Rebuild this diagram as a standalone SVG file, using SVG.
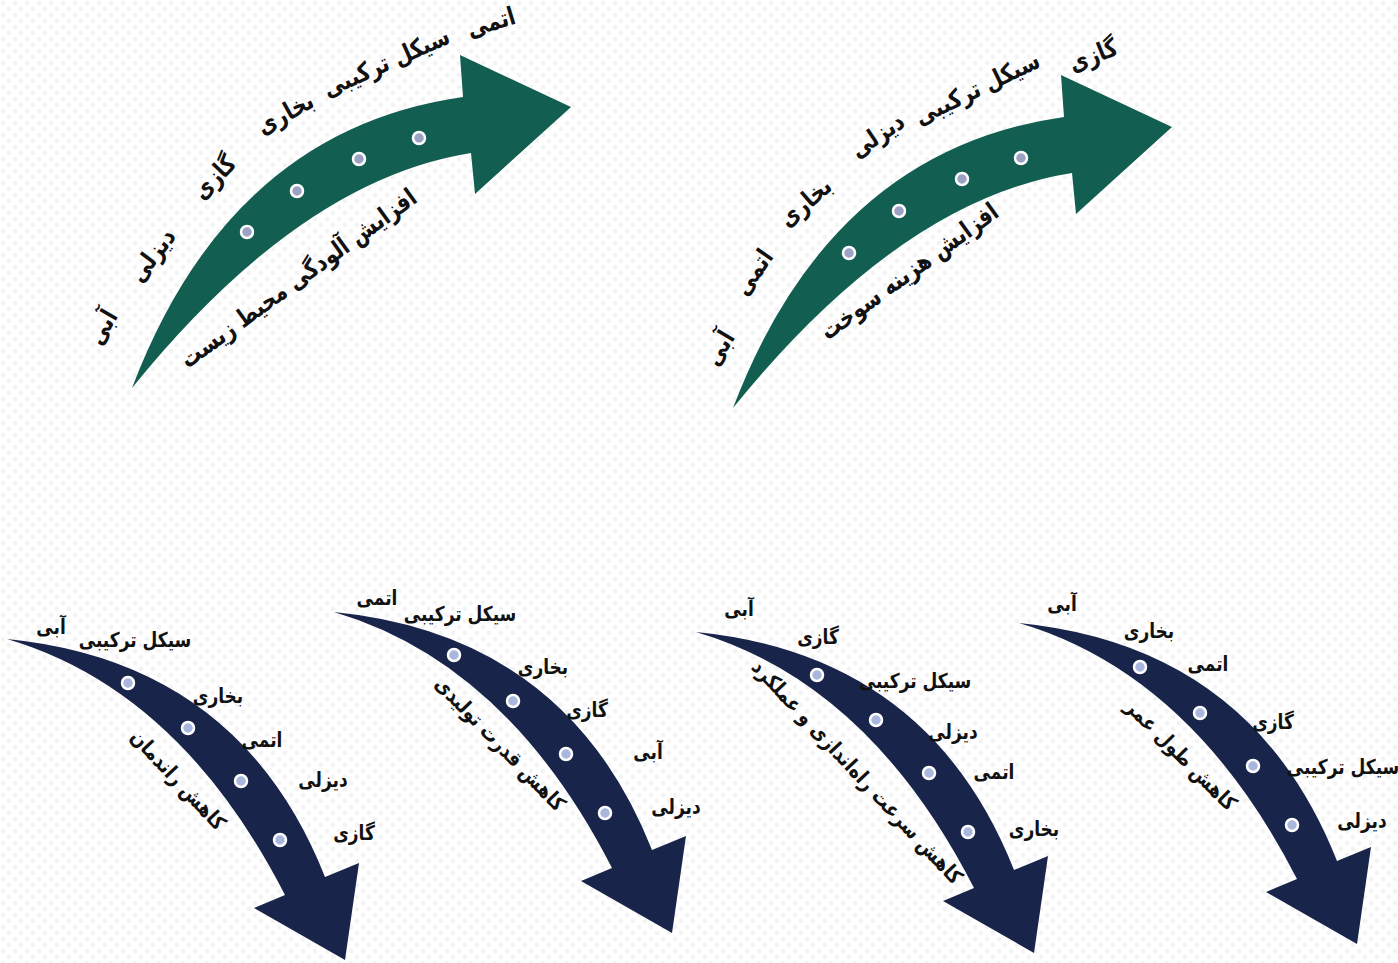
<svg xmlns="http://www.w3.org/2000/svg" width="1398" height="963" viewBox="0 0 1398 963">
<defs>
<pattern id="bgdots" width="12" height="12" patternUnits="userSpaceOnUse">
<rect width="12" height="12" fill="#ffffff"/>
<circle cx="3" cy="3" r="2.2" fill="#f3f3f3"/>
<circle cx="9" cy="9" r="2.2" fill="#f3f3f3"/>
</pattern>
<path id="upArrow" d="M132,388 Q230,130 463,97 L460,55 L571,107 L475,194 L471,153 Q300,180 132,388 Z"/>
<path id="downArrow" d="M7,639 Q240,662 325,877 L359,863 L345,960 L254,908 L285,895 Q180,690 7,639 Z"/>
</defs>
<style>
.green{fill:#125f51}
.navy{fill:#19244a}
.dotg{fill:#9ba2c4;stroke:#ffffff;stroke-width:2.5}
.dotn{fill:#a9b6de;stroke:#ffffff;stroke-width:2.5}
.lbl{font-family:"DejaVu Sans",sans-serif;font-weight:bold;fill:#111111;text-anchor:middle;dominant-baseline:central}
.big{font-size:25px}
.sm{font-size:20.5px}
.inner{font-size:21px}
</style>
<rect width="1398" height="963" fill="url(#bgdots)"/>
<g id="connectors">
<use href="#upArrow" class="green"/>
<use href="#upArrow" class="green" transform="translate(601,20)"/>
<use href="#downArrow" class="navy"/>
<use href="#downArrow" class="navy" transform="translate(327,-27)"/>
<use href="#downArrow" class="navy" transform="translate(689,-7)"/>
<use href="#downArrow" class="navy" transform="translate(1012,-16)"/>
</g>
<g id="arrow-pollution">
<circle class="dotg" cx="247" cy="232" r="6"/>
<circle class="dotg" cx="297" cy="191" r="6"/>
<circle class="dotg" cx="359" cy="159" r="6"/>
<circle class="dotg" cx="419" cy="138" r="6"/>
<text class="lbl big" transform="translate(102,327) rotate(-60) scale(0.82,1)">آبی</text>
<text class="lbl big" transform="translate(152,255) rotate(-53) scale(0.82,1)">دیزلی</text>
<text class="lbl big" transform="translate(214,177) rotate(-46) scale(0.82,1)">گازی</text>
<text class="lbl big" transform="translate(285,113) rotate(-29) scale(0.82,1)">بخاری</text>
<text class="lbl big" transform="translate(386,62) rotate(-24) scale(0.82,1)">سیکل ترکیبی</text>
<text class="lbl big" transform="translate(491,22) rotate(-17) scale(0.82,1)">اتمی</text>
<text class="lbl big" transform="translate(298,278) rotate(-36) scale(0.81,1)">افزایش آلودگی محیط زیست</text>
</g>
<g id="arrow-fuelcost">
<circle class="dotg" cx="849" cy="253" r="6"/>
<circle class="dotg" cx="899" cy="211" r="6"/>
<circle class="dotg" cx="962" cy="179" r="6"/>
<circle class="dotg" cx="1021" cy="158" r="6"/>
<text class="lbl big" transform="translate(719,348) rotate(-59) scale(0.82,1)">آبی</text>
<text class="lbl big" transform="translate(753,272) rotate(-55) scale(0.82,1)">اتمی</text>
<text class="lbl big" transform="translate(805,202) rotate(-41) scale(0.82,1)">بخاری</text>
<text class="lbl big" transform="translate(877,135) rotate(-34) scale(0.82,1)">دیزلی</text>
<text class="lbl big" transform="translate(977,88) rotate(-26) scale(0.82,1)">سیکل ترکیبی</text>
<text class="lbl big" transform="translate(1093,55) rotate(-22) scale(0.82,1)">گازی</text>
<text class="lbl big" transform="translate(909,271) rotate(-36) scale(0.81,1)">افزایش هزینه سوخت</text>
</g>
<g id="arrow-efficiency">
<circle class="dotn" cx="128" cy="683" r="6"/>
<circle class="dotn" cx="188" cy="728" r="6"/>
<circle class="dotn" cx="241" cy="781" r="6"/>
<circle class="dotn" cx="280" cy="840" r="6"/>
<text class="lbl sm" transform="translate(51,627) scale(0.83,1)">آبی</text>
<text class="lbl sm" transform="translate(135,640) scale(0.83,1)">سیکل ترکیبی</text>
<text class="lbl sm" transform="translate(218,696) scale(0.83,1)">بخاری</text>
<text class="lbl sm" transform="translate(262,740) scale(0.83,1)">اتمی</text>
<text class="lbl sm" transform="translate(323,780) scale(0.83,1)">دیزلی</text>
<text class="lbl sm" transform="translate(354,833) scale(0.83,1)">گازی</text>
<text class="lbl inner" transform="translate(178,780) rotate(47) scale(0.857,1)">کاهش راندمان</text>
</g>
<g id="arrow-capacity">
<circle class="dotn" cx="454" cy="655" r="6"/>
<circle class="dotn" cx="513" cy="701" r="6"/>
<circle class="dotn" cx="566" cy="754" r="6"/>
<circle class="dotn" cx="605" cy="813" r="6"/>
<text class="lbl sm" transform="translate(377,598) scale(0.83,1)">اتمی</text>
<text class="lbl sm" transform="translate(460,614) scale(0.83,1)">سیکل ترکیبی</text>
<text class="lbl sm" transform="translate(543,667) scale(0.83,1)">بخاری</text>
<text class="lbl sm" transform="translate(587,710) scale(0.83,1)">گازی</text>
<text class="lbl sm" transform="translate(648,752) scale(0.83,1)">آبی</text>
<text class="lbl sm" transform="translate(676,807) scale(0.83,1)">دیزلی</text>
<text class="lbl inner" transform="translate(500,744) rotate(46) scale(0.857,1)">کاهش قدرت تولیدی</text>
</g>
<g id="arrow-startup">
<circle class="dotn" cx="817" cy="675" r="6"/>
<circle class="dotn" cx="876" cy="720" r="6"/>
<circle class="dotn" cx="929" cy="773" r="6"/>
<circle class="dotn" cx="968" cy="832" r="6"/>
<text class="lbl sm" transform="translate(739,609) scale(0.83,1)">آبی</text>
<text class="lbl sm" transform="translate(818,637) scale(0.83,1)">گازی</text>
<text class="lbl sm" transform="translate(915,681) scale(0.83,1)">سیکل ترکیبی</text>
<text class="lbl sm" transform="translate(953,732) scale(0.83,1)">دیزلی</text>
<text class="lbl sm" transform="translate(994,772) scale(0.83,1)">اتمی</text>
<text class="lbl sm" transform="translate(1034,829) scale(0.83,1)">بخاری</text>
<text class="lbl inner" transform="translate(857,772) rotate(47) scale(0.857,1)">کاهش سرعت راه‌اندازی و عملکرد</text>
</g>
<g id="arrow-lifetime">
<circle class="dotn" cx="1140" cy="667" r="6"/>
<circle class="dotn" cx="1200" cy="713" r="6"/>
<circle class="dotn" cx="1253" cy="766" r="6"/>
<circle class="dotn" cx="1292" cy="825" r="6"/>
<text class="lbl sm" transform="translate(1062,604) scale(0.83,1)">آبی</text>
<text class="lbl sm" transform="translate(1149,631) scale(0.83,1)">بخاری</text>
<text class="lbl sm" transform="translate(1208,664) scale(0.83,1)">اتمی</text>
<text class="lbl sm" transform="translate(1273,722) scale(0.83,1)">گازی</text>
<text class="lbl sm" transform="translate(1343,767) scale(0.83,1)">سیکل ترکیبی</text>
<text class="lbl sm" transform="translate(1362,821) scale(0.83,1)">دیزلی</text>
<text class="lbl inner" transform="translate(1181,755) rotate(45) scale(0.857,1)">کاهش طول عمر</text>
</g>
</svg>
